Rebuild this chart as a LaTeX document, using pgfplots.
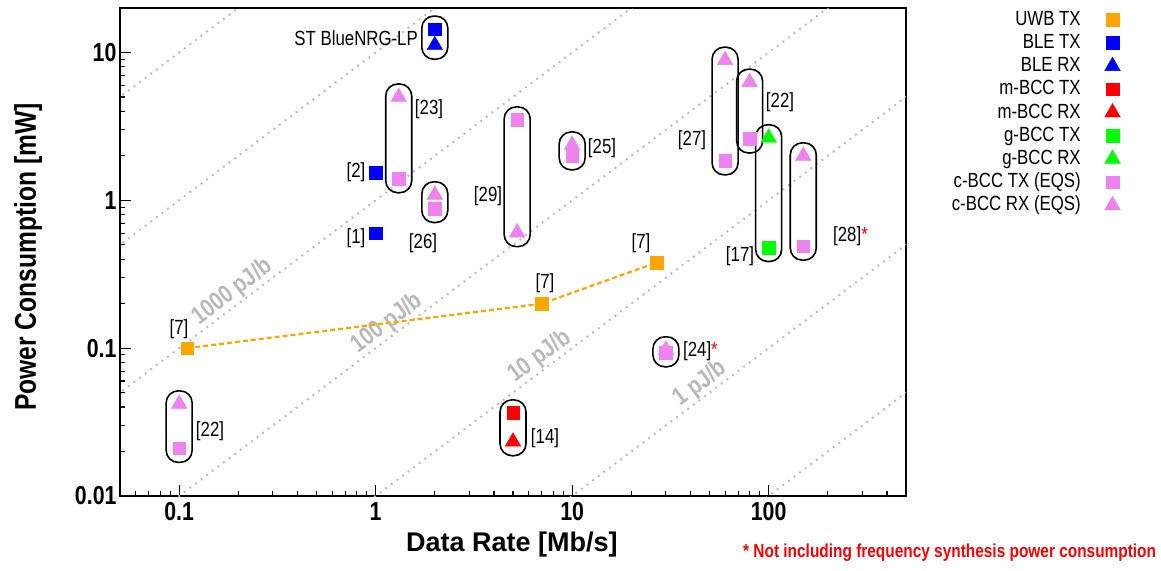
\documentclass[border=0pt]{standalone}
\usepackage{fontspec}
\setmainfont{Liberation Sans}
\newfontfamily\narrow{Liberation Sans}[FakeStretch=0.82]
\usepackage{pgfplots}
\pgfplotsset{compat=1.18}
\definecolor{cOrange}{RGB}{255,165,0}
\definecolor{cBlue}{RGB}{0,0,255}
\definecolor{cRed}{RGB}{255,0,0}
\definecolor{cGreen}{RGB}{0,255,0}
\definecolor{cViolet}{RGB}{238,130,238}
\definecolor{cGuide}{RGB}{185,185,185}
\newcommand{\fs}[1]{\fontsize{#1}{#1}\selectfont}
\newcommand{\grp}[3]{\draw[line width=1.6pt, rounded corners=12pt] ([xshift=-13pt,yshift=13pt]axis cs:#1,#2) rectangle ([xshift=13pt,yshift=-14pt]axis cs:#1,#3);}
\begin{document}
\begin{tikzpicture}[x=1pt,y=1pt,font=\narrow\fs{20.5}]
\path[use as bounding box] (0,0) rectangle (1161,-570);
\begin{axis}[
  at={(120pt,-496pt)}, anchor=south west,
  scale only axis, width=786pt, height=488pt,
  xmode=log, ymode=log,
  xmin=0.05, xmax=500, ymin=0.01, ymax=20,
  axis line style={line width=2.5pt},
  tick pos=left, tick align=inside,
  major tick length=11pt, minor tick length=5pt,
  major tick style={line width=1.3pt, black},
  minor tick style={line width=1.1pt, black},
  xtick={0.1,1,10,100}, xticklabels={0.1,1,10,100},
  ytick={0.01,0.1,1,10}, yticklabels={0.01,0.1,1,10},
  minor xtick={0.06,0.07,0.08,0.09,0.2,0.3,0.4,0.5,0.6,0.7,0.8,0.9,2,3,4,5,6,7,8,9,20,30,40,50,60,70,80,90,200,300,400},
  minor ytick={0.02,0.03,0.04,0.05,0.06,0.07,0.08,0.09,0.2,0.3,0.4,0.5,0.6,0.7,0.8,0.9,2,3,4,5,6,7,8,9},
  /pgf/number format/assume math mode=true,
  xticklabel style={font=\narrow\bfseries\fs{26}, yshift=-3pt},
  yticklabel style={font=\narrow\bfseries\fs{26}},
  legend style={at={(1.2767,1.0)}, anchor=north east, draw=none, fill=none,
    font=\narrow\fs{20.5}, row sep=4.2pt, column sep=24pt,
    nodes={inner sep=0pt, text height=15pt, text depth=4pt}},
  legend cell align=right, legend plot pos=right,
]
% energy-per-bit guide lines
\addplot[cGuide, line width=2pt, dash pattern=on 1.8pt off 5.2pt, forget plot] coordinates {(0.01,1e-6) (1000,0.1)};
\addplot[cGuide, line width=2pt, dash pattern=on 1.8pt off 5.2pt, forget plot] coordinates {(0.01,1e-5) (1000,1)}
  node[pos=0.738, sloped, above, inner sep=0pt, text=cGuide, font=\narrow\bfseries\fs{25}] {1 pJ/b};
\addplot[cGuide, line width=2pt, dash pattern=on 1.8pt off 5.2pt, forget plot] coordinates {(0.01,1e-4) (1000,10)}
  node[pos=0.575, sloped, above, inner sep=0pt, text=cGuide, font=\narrow\bfseries\fs{25}] {10 pJ/b};
\addplot[cGuide, line width=2pt, dash pattern=on 1.8pt off 5.2pt, forget plot] coordinates {(0.01,1e-3) (1000,100)}
  node[pos=0.4196, sloped, above, inner sep=0pt, text=cGuide, font=\narrow\bfseries\fs{25}] {100 pJ/b};
\addplot[cGuide, line width=2pt, dash pattern=on 1.8pt off 5.2pt, forget plot] coordinates {(0.01,1e-2) (1000,1000)}
  node[pos=0.262, sloped, above, inner sep=0pt, text=cGuide, font=\narrow\bfseries\fs{25}] {1000 pJ/b};
\addplot[cGuide, line width=2pt, dash pattern=on 1.8pt off 5.2pt, forget plot] coordinates {(0.01,0.1) (1000,10000)};
\addplot[cGuide, line width=2pt, dash pattern=on 1.8pt off 5.2pt, forget plot] coordinates {(0.01,1) (1000,100000)};
% UWB connecting line
\addplot[cOrange, line width=2.2pt, dash pattern=on 5pt off 3pt, forget plot] coordinates {(0.11,0.1) (7,0.2) (27,0.38)};
% data
\addplot[only marks, mark=square*, mark size=6.3pt, color=cOrange] coordinates {(0.11,0.1) (7,0.2) (27,0.38)};
\addlegendentry{UWB TX}
\addplot[only marks, mark=square*, mark size=6.3pt, color=cBlue] coordinates {(1,1.54) (1,0.6) (2,14.4)};
\addlegendentry{BLE TX}
\addplot[only marks, mark=triangle*, mark size=9pt, color=cBlue] coordinates {(2,11.2)};
\addlegendentry{BLE RX}
\addplot[only marks, mark=square*, mark size=6.3pt, color=cRed] coordinates {(5,0.0365)};
\addlegendentry{m-BCC TX}
\addplot[only marks, mark=triangle*, mark size=9pt, color=cRed] coordinates {(5,0.0233)};
\addlegendentry{m-BCC RX}
\addplot[only marks, mark=square*, mark size=6.3pt, color=cGreen] coordinates {(100,0.48)};
\addlegendentry{g-BCC TX}
\addplot[only marks, mark=triangle*, mark size=9pt, color=cGreen] coordinates {(100,2.65)};
\addlegendentry{g-BCC RX}
\addplot[only marks, mark=square*, mark size=6.3pt, color=cViolet] coordinates {(0.1,0.021) (1.31,1.4) (2,0.88) (5.25,3.5) (10,2.0) (30,0.093) (60,1.85) (80,2.6) (150,0.49)};
\addlegendentry{c-BCC TX (EQS)}
\addplot[only marks, mark=triangle*, mark size=9pt, color=cViolet] coordinates {(0.1,0.042) (1.31,5.0) (2,1.09) (5.25,0.605) (10,2.37) (30,0.0975) (60,8.87) (80,6.3) (150,2.0)};
\addlegendentry{c-BCC RX (EQS)}
% group outlines
\grp{2}{14.4}{11.2}
\grp{1.31}{5.0}{1.4}
\grp{2}{1.09}{0.88}
\grp{5.25}{3.5}{0.605}
\grp{10}{2.37}{2.0}
\grp{60}{8.87}{1.85}
\grp{80}{6.3}{2.6}
\grp{100}{2.65}{0.48}
\grp{150}{2.0}{0.49}
\grp{0.1}{0.042}{0.021}
\grp{5}{0.0365}{0.0233}
\grp{30}{0.0975}{0.093}
\end{axis}
% reference labels
\node[anchor=east, inner sep=0pt] at (418,-38) {ST BlueNRG-LP};
\node at (429,-109) {[23]};
\node at (356,-172) {[2]};
\node at (356,-238) {[1]};
\node at (423,-243) {[26]};
\node at (488,-196) {[29]};
\node at (602,-148) {[25]};
\node at (780,-102) {[22]};
\node at (692,-140) {[27]};
\node at (740,-256) {[17]};
\node[anchor=west, inner sep=0pt] at (833,-236) {[28]{\color{cRed}*}};
\node at (210,-431) {[22]};
\node at (545,-438) {[14]};
\node[anchor=west, inner sep=0pt] at (683,-351) {[24]{\color{cRed}*}};
\node at (179,-329) {[7]};
\node at (545,-283) {[7]};
\node at (641,-243) {[7]};
% axis titles
\node[font=\bfseries\fs{27}] at (512,-545) {Data Rate [Mb/s]};
\node[font=\narrow\bfseries\fs{30}, rotate=90] at (28,-257) {Power Consumption [mW]};
\node[anchor=west, inner sep=0pt, text=cRed, font=\narrow\bfseries\fs{18.8}] at (743,-553) {* Not including frequency synthesis power consumption};
\end{tikzpicture}
\end{document}
